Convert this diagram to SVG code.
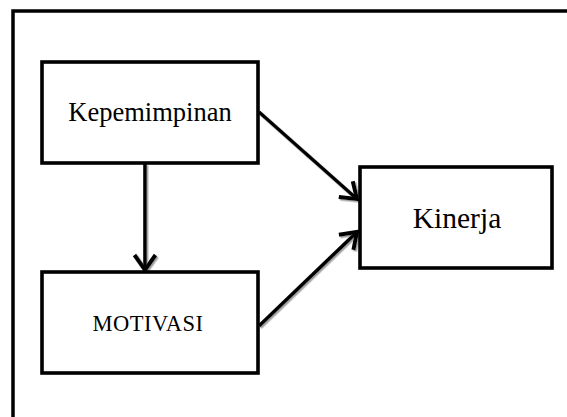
<svg xmlns="http://www.w3.org/2000/svg" width="567" height="417" viewBox="0 0 567 417">
  <style>
    .box { fill: #ffffff; stroke: #000000; stroke-width: 3.6; }
    .lbl { font-family: "Liberation Serif", "Times New Roman", serif; fill: #000000; text-anchor: middle; }
    .conn { fill: none; stroke: #000000; stroke-width: 3.6; stroke-linecap: butt; }
    .frame { fill: none; stroke: #000000; stroke-width: 3.5; }
  </style>
  <defs>
    <filter id="sh" x="-10%" y="-10%" width="130%" height="130%">
      <feDropShadow dx="1.5" dy="1.5" stdDeviation="0.6" flood-color="#888888" flood-opacity="0.8"/>
    </filter>
    <marker id="arrow" markerUnits="userSpaceOnUse" viewBox="-20 -14 24 28" refX="0" refY="0" markerWidth="24" markerHeight="28" orient="auto">
      <path d="M-15,-10.5 L0,0 L-15,10.5" fill="none" stroke="#000000" stroke-width="4" stroke-linejoin="miter"/>
    </marker>
  </defs>
  <rect width="567" height="417" fill="#ffffff"/>
  <rect class="frame" x="13" y="11" width="600" height="450"/>

  <g id="connectors" filter="url(#sh)">
    <path class="conn" d="M145,164 L145,270" marker-end="url(#arrow)"/>
    <path class="conn" d="M259,112 L357,199" marker-end="url(#arrow)"/>
    <path class="conn" d="M259,326 L357,232" marker-end="url(#arrow)"/>
  </g>

  <g id="node-kepemimpinan">
    <rect class="box" x="42" y="62" width="216" height="101"/>
    <text class="lbl" x="150" y="121" font-size="26.5">Kepemimpinan</text>
  </g>
  <g id="node-motivasi">
    <rect class="box" x="42" y="272" width="216" height="101"/>
    <text class="lbl" x="148" y="331" font-size="22.5" letter-spacing="0.5">MOTIVASI</text>
  </g>
  <g id="node-kinerja">
    <rect class="box" x="360" y="167" width="192" height="101"/>
    <text class="lbl" x="457" y="228" font-size="29.5">Kinerja</text>
  </g>
</svg>
